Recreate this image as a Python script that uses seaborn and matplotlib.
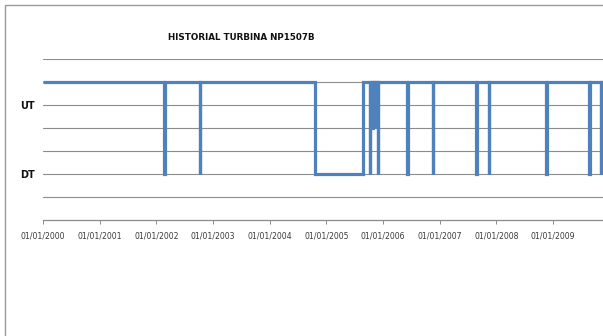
import numpy as np
import pandas as pd
import matplotlib
matplotlib.use("Agg")
import matplotlib.pyplot as plt
import matplotlib.dates as mdates
import seaborn as sns
from matplotlib.lines import Line2D

# ---------------- data ----------------
title = "HISTORIAL TURBINA NP1507B"
state_labels = ["DT", "UT"]
state_label_values = [2, 5]
grid_levels = [1, 2, 3, 4, 5, 6, 7]
up_level = 6
series_start = "2000-01-01"
series_end = "2010-03-01"

outage_start = ["2002-02-20", "2002-10-08", "2004-10-19", "2005-10-10",
                "2005-10-22", "2005-11-02", "2005-11-15", "2005-11-28",
                "2006-06-06", "2006-11-16", "2007-08-26", "2007-11-15",
                "2008-11-18", "2009-08-22", "2009-11-05"]
outage_end = ["2002-02-23", "2002-10-10", "2005-08-22", "2005-10-12",
              "2005-10-25", "2005-11-05", "2005-11-18", "2005-11-30",
              "2006-06-08", "2006-11-18", "2007-08-28", "2007-11-17",
              "2008-11-24", "2009-08-24", "2009-11-07"]
outage_level = [2, 2, 2, 2, 4, 4, 4, 2, 2, 2, 2, 2, 2, 2, 2]

tick_years = list(range(2000, 2010))
tick_labels = [f"01/01/{y}" for y in tick_years]

# ---------------- build table ----------------
dates = [series_start]
values = [up_level]
for s, e, lv in zip(outage_start, outage_end, outage_level):
    dates += [s, s, e, e]
    values += [up_level, lv, lv, up_level]
dates.append(series_end)
values.append(up_level)
df = pd.DataFrame({"date": pd.to_datetime(dates), "value": values})

# ---------------- figure ----------------
sns.set_theme(style="white")
plt.rcParams["font.family"] = ["DejaVu Sans"]
W, H = 603, 336
fig = plt.figure(figsize=(W / 100, H / 100), dpi=100)
fig.patch.set_facecolor("white")

x0, y_axis, y_top = 43, 220, 59
px_per_year = 56.67
ax = fig.add_axes([x0 / W, (H - y_axis) / H, 10 * px_per_year / W, (y_axis - y_top) / H])
ax.set_facecolor("white")

for g in grid_levels:
    ax.axhline(g, color="#8c8c8c", linewidth=0.8, zorder=1)

sns.lineplot(data=df, x="date", y="value", sort=False, estimator=None, ax=ax,
             color="#4F81BD", linewidth=2.3, zorder=3)
for ln in ax.get_lines()[len(grid_levels):]:
    ln.set_solid_capstyle("butt")
    ln.set_solid_joinstyle("miter")

ax.set_xlim(pd.Timestamp("2000-01-01"), pd.Timestamp("2010-01-01"))
ax.set_ylim(0, 7)

# y labels only for states
ax.set_yticks(state_label_values)
ax.set_yticklabels(state_labels, fontsize=7, fontweight="bold", color="#111111")
ax.tick_params(axis="y", which="both", length=0, pad=6)
ax.grid(False)

# x ticks
ax.set_xticks([pd.Timestamp(f"{y}-01-01") for y in tick_years])
ax.set_xticklabels(tick_labels, fontsize=5.6, color="#3a3a3a")
ax.tick_params(axis="x", which="major", direction="out", length=3, width=0.7,
               color="#8c8c8c", pad=5, bottom=True)
ax.set_xlabel("")
ax.set_ylabel("")

for side in ["top", "right", "left"]:
    ax.spines[side].set_visible(False)
ax.spines["bottom"].set_color("#8c8c8c")
ax.spines["bottom"].set_linewidth(0.9)

# title
fig.text(241 / W, 1 - 37 / H, title, ha="center", va="center",
         fontsize=6.3, fontweight="bold", color="#111111")

# chart frame (top and left edges visible)
fig.add_artist(Line2D([5 / W, 1], [1 - 5 / H, 1 - 5 / H], transform=fig.transFigure,
                      color="#9a9a9a", linewidth=1))
fig.add_artist(Line2D([5 / W, 5 / W], [0, 1 - 5 / H], transform=fig.transFigure,
                      color="#9a9a9a", linewidth=1))

fig.savefig("out.png", dpi=100, facecolor="white")
